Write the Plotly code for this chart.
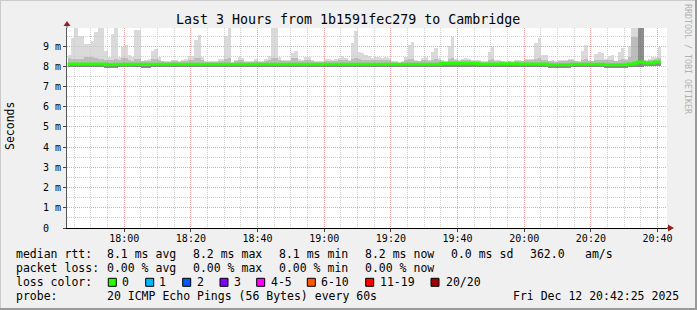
import plotly.graph_objects as go
import pandas as pd

# ---------------- data ----------------
# one bucket per minute, first bucket starts 17:43, values in ms
rtt_max = [
    8.58, 9.40, 9.90, 9.49, 9.49, 9.11, 9.11, 9.24, 9.70, 9.90,
    9.90, 8.78, 8.45, 9.60, 9.90, 8.45, 8.95, 9.06, 8.56, 8.45,
    9.80, 9.80, 8.28, 8.32, 8.38, 8.78, 8.86, 8.45, 8.28, 8.25,
    8.25, 8.32, 8.32, 8.25, 8.32, 8.37, 8.50, 8.50, 9.30, 9.57,
    8.45, 8.28, 8.28, 8.25, 8.28, 8.37, 8.37, 9.49, 9.90, 8.20,
    8.30, 8.45, 8.40, 8.28, 8.25, 8.25, 8.37, 8.25, 8.25, 8.37,
    8.50, 9.90, 9.90, 8.45, 8.30, 8.30, 8.30, 8.66, 8.74, 8.37,
    8.30, 8.45, 8.45, 8.30, 8.28, 8.28, 8.28, 8.37, 8.37, 8.30,
    8.37, 8.40, 8.50, 8.40, 8.30, 9.16, 9.77, 8.70, 8.65, 8.54,
    8.50, 8.40, 8.45, 8.45, 8.40, 8.45, 8.40, 8.28, 8.25, 8.20,
    8.28, 8.45, 9.08, 9.19, 8.32, 8.28, 8.42, 8.45, 8.32, 8.73,
    8.91, 8.40, 8.32, 8.25, 9.03, 9.47, 8.37, 8.32, 8.37, 8.42,
    8.37, 8.32, 8.32, 8.32, 8.25, 8.25, 8.73, 8.98, 8.32, 8.32,
    8.28, 8.25, 8.28, 8.25, 8.32, 8.32, 8.28, 8.37, 8.37, 8.37,
    9.16, 9.41, 8.54, 8.56, 8.28, 8.32, 8.25, 8.32, 8.32, 8.32,
    8.37, 8.37, 8.28, 8.25, 8.75, 9.06, 8.32, 8.28, 8.61, 8.70,
    8.66, 8.37, 8.50, 8.54, 8.28, 8.70, 8.91, 8.37, 9.03, 9.90,
    9.90, 9.90, 9.90, 8.32, 8.37, 8.45, 8.48, 8.94,
]
rtt_p75 = [
    8.40, 8.35, 8.38, 8.38, 8.38, 8.48, 8.48, 8.48, 8.40, 8.35,
    8.35, 8.30, 8.30, 8.32, 8.35, 8.30, 8.40, 8.40, 8.30, 8.28,
    8.35, 8.35, 8.25, 8.25, 8.28, 8.35, 8.38, 8.30, 8.25, 8.22,
    8.22, 8.25, 8.25, 8.22, 8.25, 8.28, 8.30, 8.30, 8.40, 8.42,
    8.30, 8.22, 8.22, 8.22, 8.22, 8.28, 8.28, 8.35, 8.40, 8.18,
    8.25, 8.30, 8.30, 8.22, 8.22, 8.22, 8.28, 8.22, 8.22, 8.28,
    8.30, 8.40, 8.40, 8.30, 8.25, 8.25, 8.25, 8.40, 8.42, 8.28,
    8.25, 8.30, 8.30, 8.25, 8.22, 8.22, 8.22, 8.28, 8.28, 8.25,
    8.28, 8.30, 8.32, 8.30, 8.25, 8.35, 8.40, 8.35, 8.32, 8.30,
    8.32, 8.30, 8.32, 8.32, 8.30, 8.30, 8.30, 8.22, 8.22, 8.18,
    8.22, 8.30, 8.35, 8.38, 8.25, 8.25, 8.30, 8.30, 8.25, 8.32,
    8.35, 8.30, 8.28, 8.22, 8.35, 8.40, 8.30, 8.28, 8.30, 8.30,
    8.30, 8.28, 8.28, 8.28, 8.22, 8.22, 8.32, 8.35, 8.28, 8.28,
    8.25, 8.22, 8.25, 8.22, 8.28, 8.28, 8.25, 8.30, 8.30, 8.30,
    8.38, 8.40, 8.32, 8.32, 8.25, 8.28, 8.22, 8.28, 8.28, 8.28,
    8.30, 8.30, 8.25, 8.22, 8.32, 8.38, 8.28, 8.25, 8.30, 8.32,
    8.32, 8.30, 8.32, 8.32, 8.25, 8.32, 8.38, 8.30, 8.45, 9.45,
    9.45, 9.90, 9.90, 8.28, 8.30, 8.32, 8.35, 8.40,
]
rtt_p25 = [
    8.05, 8.05, 8.05, 8.05, 8.05, 8.05, 8.05, 8.05, 8.05, 8.05,
    8.05, 8.03, 8.02, 8.03, 8.05, 8.05, 8.05, 8.03, 8.05, 8.05,
    8.05, 8.05, 8.04, 8.04, 8.04, 8.05, 8.05, 8.05, 8.05, 8.05,
    8.05, 8.05, 8.05, 8.05, 8.05, 8.05, 8.05, 8.05, 8.05, 8.05,
    8.05, 8.05, 8.05, 8.05, 8.05, 8.05, 8.05, 8.05, 8.05, 8.05,
    8.05, 8.05, 8.05, 8.05, 8.05, 8.05, 8.05, 8.05, 8.05, 8.05,
    8.05, 8.05, 8.05, 8.05, 8.05, 8.05, 8.05, 8.05, 8.05, 8.05,
    8.05, 8.05, 8.05, 8.05, 8.05, 8.05, 8.05, 8.05, 8.05, 8.05,
    8.05, 8.05, 8.05, 8.05, 8.05, 8.05, 8.05, 8.05, 8.05, 8.05,
    8.05, 8.05, 8.05, 8.05, 8.05, 8.05, 8.05, 8.05, 8.05, 8.05,
    8.05, 8.05, 8.05, 8.05, 8.05, 8.05, 8.05, 8.05, 8.05, 8.05,
    8.05, 8.05, 8.10, 8.10, 8.10, 8.10, 8.10, 8.10, 8.10, 8.10,
    8.10, 8.10, 8.10, 8.07, 8.07, 8.07, 8.07, 8.07, 8.07, 8.07,
    8.08, 8.08, 8.08, 8.08, 8.08, 8.07, 8.07, 8.07, 8.07, 8.07,
    8.07, 8.07, 8.07, 8.07, 8.03, 8.03, 8.03, 8.03, 8.03, 8.03,
    8.03, 8.06, 8.06, 8.06, 8.06, 8.06, 8.06, 8.06, 8.06, 8.06,
    8.06, 8.03, 8.03, 8.03, 8.03, 8.03, 8.03, 8.03, 8.07, 8.07,
    8.15, 9.90, 9.90, 8.12, 8.12, 8.12, 8.15, 8.15,
]
rtt_min = [
    7.95, 7.95, 7.95, 7.95, 7.95, 7.95, 7.95, 7.95, 7.95, 7.95,
    7.95, 7.91, 7.91, 7.91, 7.91, 7.95, 7.95, 7.95, 7.95, 7.95,
    7.95, 7.95, 7.93, 7.93, 7.93, 7.95, 7.95, 7.95, 7.95, 7.95,
    7.95, 7.95, 7.95, 7.95, 7.95, 7.95, 7.95, 7.95, 7.95, 7.95,
    7.95, 7.95, 7.95, 7.95, 7.95, 7.95, 7.95, 7.95, 7.95, 7.95,
    7.95, 7.95, 7.95, 7.95, 7.95, 7.95, 7.95, 7.95, 7.95, 7.95,
    7.95, 7.95, 7.95, 7.95, 7.95, 7.95, 7.95, 7.95, 7.95, 7.95,
    7.95, 7.95, 7.95, 7.95, 7.95, 7.95, 7.95, 7.95, 7.95, 7.95,
    7.95, 7.95, 7.95, 7.95, 7.95, 7.95, 7.95, 7.95, 7.95, 7.95,
    7.95, 7.95, 7.95, 7.95, 7.95, 7.95, 7.95, 7.95, 7.95, 7.95,
    7.95, 7.95, 7.95, 7.95, 7.95, 7.95, 7.95, 7.95, 7.95, 7.95,
    7.95, 7.95, 7.97, 7.97, 7.97, 7.97, 7.97, 7.97, 7.97, 7.97,
    7.97, 7.97, 7.97, 7.95, 7.95, 7.95, 7.95, 7.95, 7.95, 7.95,
    7.95, 7.95, 7.95, 7.95, 7.95, 7.95, 7.95, 7.95, 7.95, 7.95,
    7.95, 7.95, 7.95, 7.95, 7.93, 7.93, 7.93, 7.93, 7.93, 7.93,
    7.93, 7.95, 7.95, 7.95, 7.95, 7.95, 7.95, 7.95, 7.95, 7.95,
    7.95, 7.93, 7.93, 7.93, 7.93, 7.93, 7.93, 7.93, 7.95, 7.98,
    7.98, 7.98, 7.98, 8.00, 8.00, 8.00, 8.00, 8.00,
]
rtt_median = [
    8.12, 8.12, 8.12, 8.12, 8.12, 8.12, 8.12, 8.12, 8.12, 8.12,
    8.12, 8.10, 8.08, 8.08, 8.10, 8.10, 8.10, 8.08, 8.10, 8.10,
    8.10, 8.10, 8.10, 8.10, 8.10, 8.10, 8.10, 8.10, 8.10, 8.10,
    8.10, 8.10, 8.10, 8.10, 8.10, 8.10, 8.10, 8.10, 8.10, 8.10,
    8.10, 8.10, 8.10, 8.10, 8.10, 8.10, 8.10, 8.10, 8.10, 8.10,
    8.10, 8.10, 8.10, 8.10, 8.10, 8.10, 8.10, 8.10, 8.10, 8.10,
    8.10, 8.10, 8.10, 8.10, 8.10, 8.10, 8.10, 8.10, 8.10, 8.10,
    8.10, 8.10, 8.10, 8.10, 8.10, 8.10, 8.10, 8.10, 8.10, 8.10,
    8.10, 8.10, 8.10, 8.10, 8.10, 8.10, 8.10, 8.10, 8.10, 8.10,
    8.10, 8.10, 8.10, 8.10, 8.10, 8.10, 8.10, 8.10, 8.10, 8.10,
    8.10, 8.10, 8.10, 8.10, 8.10, 8.10, 8.10, 8.10, 8.10, 8.10,
    8.10, 8.10, 8.15, 8.15, 8.15, 8.15, 8.15, 8.15, 8.15, 8.15,
    8.15, 8.15, 8.15, 8.12, 8.12, 8.12, 8.12, 8.12, 8.12, 8.12,
    8.13, 8.13, 8.13, 8.13, 8.13, 8.12, 8.12, 8.12, 8.12, 8.12,
    8.12, 8.12, 8.12, 8.12, 8.08, 8.08, 8.08, 8.08, 8.08, 8.08,
    8.08, 8.11, 8.11, 8.11, 8.11, 8.11, 8.11, 8.11, 8.11, 8.11,
    8.11, 8.08, 8.08, 8.08, 8.08, 8.08, 8.08, 8.08, 8.12, 8.12,
    8.17, 8.22, 8.22, 8.17, 8.17, 8.17, 8.22, 8.22,
]

y_tick_values = [0, 1, 2, 3, 4, 5, 6, 7, 8, 9]
y_tick_labels = ["0\u00a0\u00a0", "1 m", "2 m", "3 m", "4 m", "5 m", "6 m", "7 m", "8 m", "9 m"]

title_text = "Last 3 Hours from 1b1591fec279 to Cambridge"
rtt_stats = ["8.1 ms avg", "8.2 ms max", "8.1 ms min", "8.2 ms now", "0.0 ms sd", "362.0", "am/s"]
loss_stats = ["0.00 % avg", "0.00 % max", "0.00 % min", "0.00 % now"]
loss_labels = ["0", "1", "2", "3", "4-5", "6-10", "11-19", "20/20"]
loss_colors = ["#26ff00", "#00b8ff", "#0059ff", "#7e00ff", "#ff00ff", "#ff5500", "#ff0000", "#a10000"]
probe_text = "20 ICMP Echo Pings (56 Bytes) every 60s"
date_text = "Fri Dec 12 20:42:25 2025"

# ---------------- layout geometry (pixels) ----------------
W, H = 697, 310
PL, PR, PT, PB = 67, 667, 28, 228
PW, PH = PR - PL, PB - PT
MONO = "DejaVu Sans Mono"


def px(x):
    return (x - PL) / PW


def py(y):
    return (PB - y) / PH


start = pd.Timestamp("2025-12-12 17:43:00")
n = len(rtt_max)
bucket_mid = [start + pd.Timedelta(seconds=60 * k + 30) for k in range(n)]
bucket_edges = [start + pd.Timedelta(minutes=k) for k in range(n + 1)]

fig = go.Figure()

# smoke: non-overlapping bands, slightly translucent so the grid shows through
bands = [
    (rtt_p75, rtt_max, "rgba(206,206,206,0.75)"),
    (rtt_p25, rtt_p75, "rgba(166,166,166,0.75)"),
    (rtt_min, rtt_p25, "rgba(104,104,104,0.75)"),
]
for lo, hi, col in bands:
    fig.add_trace(go.Bar(
        x=bucket_mid, y=[max(h - l, 0) for h, l in zip(hi, lo)], base=lo,
        width=60000, marker=dict(color=col, line=dict(width=0)),
        hoverinfo="skip", showlegend=False,
    ))

fig.add_trace(go.Scatter(
    x=bucket_edges, y=rtt_median + [rtt_median[-1]],
    mode="lines", line=dict(color="#26ff00", width=3, shape="hv"),
    hoverinfo="skip", showlegend=False,
))

fig.update_layout(
    width=W, height=H, autosize=False,
    margin=dict(l=PL, r=W - PR, t=PT, b=H - PB, pad=0),
    paper_bgcolor="#f0f0f0", plot_bgcolor="#ffffff",
    barmode="overlay", bargap=0, showlegend=False,
    font=dict(family=MONO, size=10, color="#000000"),
)

fig.update_xaxes(
    type="date",
    range=["2025-12-12 17:42:50", "2025-12-12 20:42:50"],
    tickmode="linear", tick0="2025-12-12 18:00:00", dtick=20 * 60 * 1000,
    tickformat="%H:%M", tickfont=dict(family=MONO, size=10, color="#000"),
    ticklabelstandoff=-2,
    showgrid=True, gridcolor="#f2a0a0", griddash="1px,1px", gridwidth=1,
    minor=dict(dtick=5 * 60 * 1000, tick0="2025-12-12 18:00:00", showgrid=True,
               gridcolor="#cfcfcf", griddash="1px,1px", gridwidth=1),
    showline=True, linecolor="#000000", linewidth=1,
    ticks="outside", ticklen=3, tickcolor="#444444",
    zeroline=False, fixedrange=True,
)
fig.update_yaxes(
    range=[0, 9.9],
    tickmode="array", tickvals=y_tick_values, ticktext=y_tick_labels,
    tickfont=dict(family=MONO, size=10, color="#000"),
    showgrid=True, gridcolor="#f2a0a0", griddash="1px,1px", gridwidth=1,
    minor=dict(dtick=0.5, tick0=0, showgrid=True,
               gridcolor="#cfcfcf", griddash="1px,1px", gridwidth=1),
    showline=True, linecolor="#555555", linewidth=1,
    ticks="outside", ticklen=3, tickcolor="#444444",
    zeroline=False, fixedrange=True,
)

shapes = []
# 3D border of the image
shapes.append(dict(type="line", xref="paper", yref="paper", x0=px(0), x1=px(W), y0=py(0.5), y1=py(0.5),
                   line=dict(color="#cbcbcb", width=1)))
shapes.append(dict(type="line", xref="paper", yref="paper", x0=px(0.5), x1=px(0.5), y0=py(0), y1=py(H),
                   line=dict(color="#cbcbcb", width=1)))
shapes.append(dict(type="line", xref="paper", yref="paper", x0=px(0), x1=px(W), y0=py(H - 1), y1=py(H - 1),
                   line=dict(color="#999999", width=2)))
shapes.append(dict(type="line", xref="paper", yref="paper", x0=px(W - 1), x1=px(W - 1), y0=py(0), y1=py(H),
                   line=dict(color="#999999", width=2)))
# axis arrows
shapes.append(dict(type="line", xref="paper", yref="paper", x0=px(PL), x1=px(PL), y0=py(PT), y1=py(PT - 3),
                   line=dict(color="#555555", width=1)))
shapes.append(dict(type="path", xref="paper", yref="paper",
                   path=f"M {px(PL - 3.5)} {py(PT - 2)} L {px(PL + 3.5)} {py(PT - 2)} L {px(PL)} {py(PT - 7)} Z",
                   fillcolor="#952020", line=dict(width=0)))
shapes.append(dict(type="line", xref="paper", yref="paper", x0=px(PR), x1=px(PR + 2), y0=py(PB), y1=py(PB),
                   line=dict(color="#000000", width=1)))
shapes.append(dict(type="path", xref="paper", yref="paper",
                   path=f"M {px(PR + 1)} {py(PB - 3.5)} L {px(PR + 1)} {py(PB + 3.5)} L {px(PR + 7)} {py(PB)} Z",
                   fillcolor="#952020", line=dict(width=0)))

annotations = []


def ann(x, y, text, size=11.5, color="#000000", xanchor="left", angle=0):
    annotations.append(dict(
        x=px(x), y=py(y), xref="paper", yref="paper", text=text, showarrow=False,
        xanchor=xanchor, yanchor="middle", textangle=angle, borderpad=0, borderwidth=0,
        font=dict(family=MONO, size=size, color=color),
    ))


ann(348, 19, title_text, size=13.3, xanchor="center")
ann(10, 126, "Seconds", size=11.5, xanchor="center", angle=-90)
ann(687.5, 58.5, "RRDTOOL / TOBI OETIKER", size=8.3, color="#b0b0b0", xanchor="center", angle=90)

row_y = [254.3, 268.3, 282.3, 296.3]
ann(16, row_y[0], "median rtt:")
for xx, t in zip([107.3, 193.3, 279.3, 365, 451, 530, 585], rtt_stats):
    ann(xx, row_y[0], t)
ann(16, row_y[1], "packet loss:")
for xx, t in zip([107.3, 193.3, 279.3, 365], loss_stats):
    ann(xx, row_y[1], t)
ann(16, row_y[2], "loss color:")
sw_x = [108.3, 145.7, 182.7, 220, 256.7, 307.3, 365.7, 431]
lab_x = [121.7, 159.3, 196.7, 234, 270.7, 320.7, 380, 445.7]
for sx, lx, lab, col in zip(sw_x, lab_x, loss_labels, loss_colors):
    shapes.append(dict(type="rect", xref="paper", yref="paper",
                       x0=px(sx), x1=px(sx + 8), y0=py(row_y[2] - 4), y1=py(row_y[2] + 4),
                       fillcolor=col, line=dict(color="#000000", width=1)))
    ann(lx, row_y[2], lab)
ann(16, row_y[3], "probe:")
ann(107.3, row_y[3], probe_text)
ann(513.3, row_y[3], date_text)

fig.update_layout(shapes=shapes, annotations=annotations)
fig.write_html("out.html")
